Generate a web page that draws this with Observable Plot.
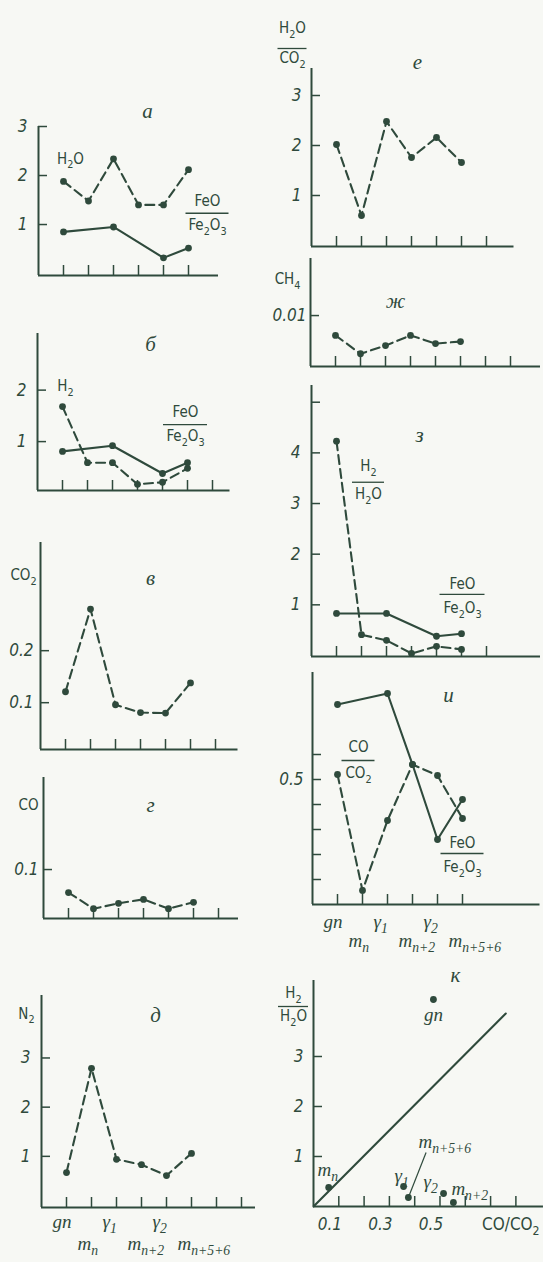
<!DOCTYPE html>
<html>
<head>
<meta charset="utf-8">
<script src="https://cdn.jsdelivr.net/npm/d3@7"></script>
<script src="https://cdn.jsdelivr.net/npm/@observablehq/plot@0.6"></script>
<style>
  html, body { margin: 0; background: #f7f8f4; }
  #fig { position: relative; width: 543px; height: 1262px; overflow: hidden; }
  #fig svg { position: absolute; overflow: visible; background: transparent; }
</style>
</head>
<body>
<div id="fig"></div>
<script>
// Sample sequence along the horizontal axis
const samplePos = [1, 2, 3, 4, 5, 6];
const sampleNames = ["gn", "m_n", "γ_1", "m_{n+2}", "γ_2", "m_{n+5+6}"];

// а — H2O and FeO/Fe2O3
const aH2O = [1.88, 1.48, 2.34, 1.40, 1.40, 2.12];
const aFeO = [0.85, null, 0.95, null, 0.32, 0.52];
// б — H2 and FeO/Fe2O3
const bH2 = [1.68, 0.59, 0.59, 0.17, 0.21, 0.48];
const bFeO = [0.81, null, 0.92, null, 0.38, 0.59];
// в — CO2
const vCO2 = [0.121, 0.280, 0.096, 0.081, 0.080, 0.138];
// г — CO
const gCO = [0.053, 0.020, 0.031, 0.039, 0.020, 0.033];
// д — N2
const dN2 = [0.67, 2.79, 0.94, 0.83, 0.61, 1.06];
// е — H2O/CO2
const eH2OCO2 = [2.02, 0.60, 2.48, 1.76, 2.16, 1.66];
// ж — CH4
const zhCH4 = [0.0061, 0.0025, 0.0041, 0.0061, 0.0045, 0.0049];
// з — H2/H2O and FeO/Fe2O3
const zH2H2O = [4.23, 0.41, 0.30, 0.04, 0.18, 0.12];
const zFeO = [0.83, null, 0.83, null, 0.38, 0.43];
// и — CO/CO2 and FeO/Fe2O3
const iCOCO2 = [0.52, 0.056, 0.336, 0.56, 0.516, 0.344];
const iFeO = [0.80, null, 0.844, 0.56, 0.26, 0.42];
// к — H2/H2O against CO/CO2 for each sample
const kCOCO2 = [0.474, 0.060, 0.356, 0.553, 0.514, 0.375];
const kH2H2O = [4.14, 0.38, 0.40, 0.08, 0.26, 0.18];
const kLineCO = [0, 0.76];
const kLineH2 = [0, 3.86];

// Tick values
const tick1to3 = [1, 2, 3];
const tick1to5 = [1, 2, 3, 4, 5];
const tickTenths = [0.1, 0.2, 0.3, 0.4, 0.5, 0.6];
const kTicksX = [0.1, 0.2, 0.3, 0.4, 0.5, 0.6, 0.7, 0.8];
const kLabelsX = [0.1, 0.3, 0.5];

const INK = "#2f4a3c";
const SANS = "'DejaVu Sans Condensed', 'Liberation Sans Narrow', 'DejaVu Sans', sans-serif";
const SERIF = "'Liberation Serif', 'DejaVu Serif', serif";
const CHEM = {fill: INK, fontFamily: SANS, fontSize: 15};
const NUM = {fill: INK, fontFamily: SANS, fontSize: 17, fontStyle: "italic"};
const LETTER = {fill: INK, fontFamily: SERIF, fontSize: 21, fontStyle: "italic"};
const CAT = {fill: INK, fontFamily: SERIF, fontSize: 19, fontStyle: "italic"};

const fig = document.getElementById("fig");

// Turn "X_2" / "m_{n+2}" into real subscripts
function subscripts(svg) {
  svg.querySelectorAll("text").forEach(t => {
    const s = t.textContent;
    if (!s.includes("_")) return;
    const fs = parseFloat(getComputedStyle(t).fontSize) || 15;
    const shift = 0.3 * fs;
    const parts = [];
    const re = /_\{([^}]*)\}|_(.)/g;
    let last = 0, m;
    while ((m = re.exec(s))) {
      if (m.index > last) parts.push([s.slice(last, m.index), false]);
      parts.push([m[1] ?? m[2], true]);
      last = re.lastIndex;
    }
    if (last < s.length) parts.push([s.slice(last), false]);
    while (t.firstChild) t.removeChild(t.firstChild);
    let low = false;
    for (const [str, sub] of parts) {
      const sp = document.createElementNS("http://www.w3.org/2000/svg", "tspan");
      sp.textContent = str;
      if (sub !== low) sp.setAttribute("dy", (sub ? shift : -shift) + "px");
      if (sub) sp.setAttribute("font-size", (fs * 0.72) + "px");
      low = sub;
      t.appendChild(sp);
    }
  });
}

function rows(values) {
  return samplePos.map((p, i) => ({p, v: values[i]})).filter(d => d.v != null);
}

function series(values, dashed) {
  const data = rows(values);
  return [
    Plot.line(data, {x: "p", y: "v", stroke: INK, strokeWidth: 2.1,
      strokeDasharray: dashed ? "9,5" : null}),
    Plot.dot(data, {x: "p", y: "v", r: 3.4, fill: INK, stroke: "none"})
  ];
}

function text(str, x, y, style, extra = {}) {
  return Plot.text([str], {x, y, text: d => d, ...style, ...extra});
}

function fraction({num, den, x, y, w, up = 12, down = 12}, kx) {
  return [
    Plot.ruleY([y], {x1: x - w / 2 / kx, x2: x + w / 2 / kx, stroke: INK, strokeWidth: 1.3}),
    text(num, x, y, CHEM, {dy: -up}),
    text(den, x, y, CHEM, {dy: down})
  ];
}

function sampleLabels(y0, dyTop, dyLow) {
  const top = sampleNames.map((n, i) => ({n, p: samplePos[i]})).filter((d, i) => i % 2 === 0);
  const low = sampleNames.map((n, i) => ({n, p: samplePos[i]})).filter((d, i) => i % 2 === 1);
  return [
    Plot.text(top, {x: "p", y: y0, text: "n", textAnchor: "start", dx: -14, dy: dyTop, ...CAT}),
    Plot.text(low, {x: "p", y: y0, text: "n", textAnchor: "start", dx: -14, dy: dyLow, ...CAT})
  ];
}

function panel(p) {
  const [y0, y1] = p.y;
  const width = p.xMax * p.kx;
  const ky = p.height / (y1 - y0);
  const marks = [
    Plot.ruleX([0], {y1: y0, y2: y1, stroke: INK, strokeWidth: 2}),
    Plot.ruleY([y0], {x1: 0, x2: p.xMax, stroke: INK, strokeWidth: 2}),
    Plot.ruleY(p.yTicks, {x1: 0, x2: 9 / p.kx, stroke: INK, strokeWidth: 1.5}),
    Plot.ruleX(p.xTicks, {y1: y0, y2: y0 + 10 / ky, stroke: INK, strokeWidth: 1.5}),
    Plot.text(p.yLabels, {x: 0, y: d => d, text: d => String(d), textAnchor: "end", dx: -(p.labelGap ?? 10), ...NUM}),
    ...(p.fracs ?? []).flatMap(f => fraction(f, p.kx)),
    ...p.marks
  ];
  const svg = Plot.plot({
    width, height: p.height, margin: 0,
    x: {domain: [0, p.xMax], axis: null},
    y: {domain: p.y, axis: null},
    marks
  });
  svg.style.left = p.left + "px";
  svg.style.top = (p.bottom - p.height) + "px";
  svg.style.background = "transparent";
  svg.style.overflow = "visible";
  svg.style.maxWidth = "none";
  fig.appendChild(svg);
  subscripts(svg);
}

// а
panel({
  left: 38, bottom: 275, height: 149, y: [-0.04, 3.0], xMax: 7.2, kx: 25,
  xTicks: samplePos, yTicks: tick1to3, yLabels: tick1to3, labelGap: 11,
  fracs: [{num: "FeO", den: "Fe_2O_3", x: 6.76, y: 1.23, w: 43}],
  marks: [
    ...series(aH2O, true), ...series(aFeO, false),
    text("а", 4.36, 3.32, LETTER),
    text("H_2O", 1.28, 2.34, CHEM)
  ]
});

// б
panel({
  left: 37, bottom: 490, height: 157, y: [0.05, 3.1], xMax: 7.7, kx: 25,
  xTicks: [1, 2, 3, 4, 5, 6, 7], yTicks: [1, 2], yLabels: [1, 2], labelGap: 11,
  fracs: [{num: "FeO", den: "Fe_2O_3", x: 5.92, y: 1.33, w: 44}],
  marks: [
    ...series(bH2, true), ...series(bFeO, false),
    text("б", 4.52, 2.9, LETTER),
    text("H_2", 1.12, 2.07, CHEM)
  ]
});

// в
panel({
  left: 40, bottom: 749, height: 207, y: [0.01, 0.408], xMax: 7.9, kx: 25,
  xTicks: [1, 2, 3, 4, 5, 6, 7], yTicks: [0.1, 0.2], yLabels: [0.1, 0.2], labelGap: 7,
  marks: [
    ...series(vCO2, true),
    text("в", 4.4, 0.339, LETTER),
    text("CO_2", -0.68, 0.345, CHEM)
  ]
});

// г
panel({
  left: 43, bottom: 918, height: 141, y: [0, 0.288], xMax: 7.8, kx: 25,
  xTicks: [1, 2, 3, 4, 5, 6, 7], yTicks: [0.1], yLabels: [0.1], labelGap: 5,
  marks: [
    ...series(gCO, true),
    text("г", 4.28, 0.231, LETTER),
    text("CO", -0.6, 0.231, CHEM)
  ]
});

// д
panel({
  left: 41, bottom: 1207, height: 212, y: [-0.04, 4.27], xMax: 8.56, kx: 25,
  xTicks: [1, 2, 3, 4, 5, 6, 7, 8], yTicks: tick1to3, yLabels: tick1to3, labelGap: 11,
  marks: [
    ...series(dN2, true),
    text("д", 4.56, 3.86, LETTER),
    text("N_2", -0.6, 3.9, CHEM),
    ...sampleLabels(-0.04, 14, 36)
  ]
});

// е
panel({
  left: 311, bottom: 246, height: 178, y: [-0.02, 3.54], xMax: 8.1, kx: 25,
  xTicks: [1, 2, 3, 4, 5, 6, 7], yTicks: tick1to3, yLabels: tick1to3, labelGap: 10,
  fracs: [{num: "H_2O", den: "CO_2", x: -0.76, y: 3.94, w: 29, up: 20, down: 10}],
  marks: [
    ...series(eH2OCO2, true),
    text("е", 4.24, 3.66, LETTER)
  ]
});

// ж
panel({
  left: 310, bottom: 366, height: 108, y: [0, 0.0212], xMax: 9.2, kx: 25,
  xTicks: [1, 2, 3, 4, 5, 6, 7, 8], yTicks: [0.01], yLabels: [0.01], labelGap: 4,
  marks: [
    ...series(zhCH4, true),
    text("ж", 3.4, 0.0129, LETTER),
    text("CH_4", -0.92, 0.01706, CHEM)
  ]
});

// з
panel({
  left: 311, bottom: 656, height: 271, y: [-0.02, 5.33], xMax: 9.16, kx: 25,
  xTicks: [1, 2, 3, 4, 5, 6, 7], yTicks: tick1to5, yLabels: [1, 2, 3, 4], labelGap: 11,
  fracs: [
    {num: "H_2", den: "H_2O", x: 2.28, y: 3.42, w: 32, up: 16, down: 12},
    {num: "FeO", den: "Fe_2O_3", x: 6.04, y: 1.205, w: 45, up: 10, down: 14}
  ],
  marks: [
    ...series(zH2H2O, true), ...series(zFeO, false),
    text("з", 4.32, 4.35, LETTER)
  ]
});

// и
panel({
  left: 312, bottom: 904, height: 232, y: [0, 0.928], xMax: 9.1, kx: 25,
  xTicks: samplePos, yTicks: tickTenths, yLabels: [0.5], labelGap: 9,
  fracs: [
    {num: "CO", den: "CO_2", x: 1.84, y: 0.576, w: 33, up: 13, down: 13},
    {num: "FeO", den: "Fe_2O_3", x: 6.0, y: 0.204, w: 43, up: 10, down: 14}
  ],
  marks: [
    ...series(iCOCO2, true), ...series(iFeO, false),
    text("и", 5.44, 0.836, LETTER),
    ...sampleLabels(0, 17, 36)
  ]
});

// к — scatter of H2/H2O against CO/CO2
{
  const pts = sampleNames.map((n, i) => ({n, co: kCOCO2[i], h2: kH2H2O[i]}));
  const line = kLineCO.map((co, i) => ({co, h2: kLineH2[i]}));
  const byName = n => pts.find(d => d.n === n);
  const outer = byName("m_{n+5+6}");
  panel({
    left: 313, bottom: 1206, height: 226, y: [0, 4.52], xMax: 0.909, kx: 253,
    xTicks: kTicksX, yTicks: tick1to3, yLabels: tick1to3, labelGap: 10,
    fracs: [{num: "H_2", den: "H_2O", x: -0.079, y: 4.0, w: 30, up: 13, down: 10}],
    marks: [
      Plot.line(line, {x: "co", y: "h2", stroke: INK, strokeWidth: 2.1}),
      Plot.dot(pts, {x: "co", y: "h2", r: 3.4, fill: INK, stroke: "none"}),
      Plot.link([outer], {x1: "co", y1: "h2", x2: 0.445, y2: 1.08, stroke: INK, strokeWidth: 1.2}),
      Plot.text(kLabelsX, {x: d => d, y: 0, text: d => String(d), dx: -9, dy: 18, ...NUM}),
      text("CO/CO_2", 0.78, 0, NUM, {dy: 18, fontStyle: "normal"}),
      text("к", 0.561, 4.62, LETTER),
      text("gn", byName("gn").co, byName("gn").h2, CAT, {dy: 15}),
      text("m_n", 0.016, 0.74, CAT, {textAnchor: "start"}),
      text("γ_1", 0.32, 0.62, CAT, {textAnchor: "start"}),
      text("γ_2", 0.435, 0.5, CAT, {textAnchor: "start"}),
      text("m_{n+2}", 0.545, 0.36, CAT, {textAnchor: "start"}),
      text("m_{n+5+6}", 0.415, 1.3, CAT, {textAnchor: "start"})
    ]
  });
}
</script>
</body>
</html>
